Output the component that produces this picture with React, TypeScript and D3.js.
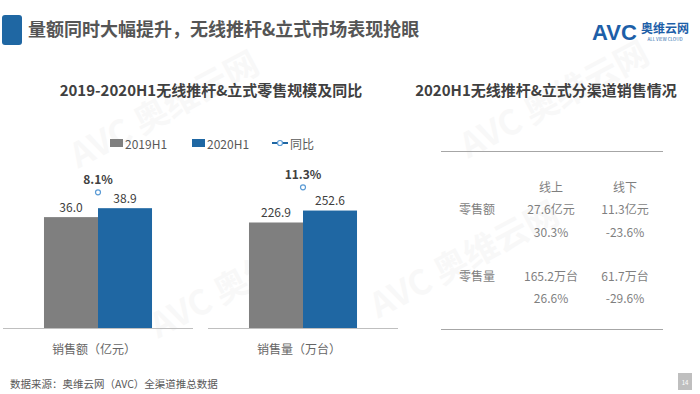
import { useEffect, useRef } from "react";
import * as d3 from "d3";

const W = 700;
const H = 394;
const FONT = "'Noto Sans CJK SC', 'Noto Sans', sans-serif";

// left panel: bars + yoy
const categories = ["销售额（亿元）", "销售量（万台）"];
const seriesNames = ["2019H1", "2020H1"];
const seriesColors = ["#7f7f7f", "#1f67a3"];
const values2019 = [36.0, 226.9];
const values2020 = [38.9, 252.6];
const yoyValues = [0.081, 0.113];
const yoyLabel = "同比";

// right panel: channel table
const channels = ["线上", "线下"];
const tableRows = ["零售额", "零售量"];
const amountRow1 = ["27.6亿元", "11.3亿元"];
const growthRow1 = ["30.3%", "-23.6%"];
const amountRow2 = ["165.2万台", "61.7万台"];
const growthRow2 = ["26.6%", "-29.6%"];

const App = () => {
  const svgRef = useRef<SVGSVGElement | null>(null);

  useEffect(() => {
    const svg = d3.select(svgRef.current);
    svg.selectAll("*").remove();

    svg.append("rect").attr("width", W).attr("height", H).attr("fill", "#fff");

    // faint watermarks
    const marks = [
      [170, 120],
      [470, 270],
      [250, 290],
      [560, 110],
    ];
    marks.forEach(([x, y]) => {
      svg
        .append("text")
        .attr("transform", `translate(${x},${y}) rotate(-28)`)
        .attr("text-anchor", "middle")
        .attr("font-family", FONT)
        .attr("font-weight", 700)
        .attr("font-size", 34)
        .attr("fill", "#000")
        .attr("opacity", 0.025)
        .text("AVC 奥维云网");
    });

    // header
    svg
      .append("rect")
      .attr("x", 2)
      .attr("y", 15)
      .attr("width", 20)
      .attr("height", 30)
      .attr("rx", 3)
      .attr("fill", "#1f67a3");
    svg
      .append("text")
      .attr("x", 28)
      .attr("y", 36)
      .attr("font-family", FONT)
      .attr("font-weight", 700)
      .attr("font-size", 18)
      .attr("fill", "#555")
      .text("量额同时大幅提升，无线推杆&立式市场表现抢眼");

    // logo
    svg
      .append("text")
      .attr("x", 592)
      .attr("y", 40)
      .attr("font-family", "'Liberation Sans', sans-serif")
      .attr("font-weight", 700)
      .attr("font-size", 22)
      .attr("fill", "#1d5fa8")
      .text("AVC");
    svg
      .append("text")
      .attr("x", 641)
      .attr("y", 33)
      .attr("font-family", FONT)
      .attr("font-weight", 700)
      .attr("font-size", 12)
      .attr("fill", "#1d5fa8")
      .text("奥维云网");
    svg
      .append("text")
      .attr("x", 665)
      .attr("y", 41)
      .attr("text-anchor", "middle")
      .attr("font-family", FONT)
      .attr("font-size", 4.5)
      .attr("fill", "#1d5fa8")
      .text("ALL VIEW CLOUD");

    // left chart title
    svg
      .append("text")
      .attr("x", 211)
      .attr("y", 89)
      .attr("dominant-baseline", "central")
      .attr("text-anchor", "middle")
      .attr("font-family", FONT)
      .attr("font-weight", 700)
      .attr("font-size", 15)
      .attr("fill", "#404040")
      .text("2019-2020H1无线推杆&立式零售规模及同比");

    // legend
    const legend = svg.append("g").attr("font-family", FONT).attr("font-size", 12).attr("fill", "#595959");
    const legendX = [110, 192];
    seriesNames.forEach((name, i) => {
      legend
        .append("rect")
        .attr("x", legendX[i])
        .attr("y", 139)
        .attr("width", 13)
        .attr("height", 8)
        .attr("fill", seriesColors[i]);
      legend
        .append("text")
        .attr("x", legendX[i] + 15)
        .attr("y", 143)
        .attr("dominant-baseline", "central")
        .text(name);
    });
    legend
      .append("line")
      .attr("x1", 272)
      .attr("x2", 288)
      .attr("y1", 143)
      .attr("y2", 143)
      .attr("stroke", "#1f67a3")
      .attr("stroke-width", 2);
    legend
      .append("circle")
      .attr("cx", 280)
      .attr("cy", 143)
      .attr("r", 2.5)
      .attr("fill", "#fff")
      .attr("stroke", "#5b9bd5")
      .attr("stroke-width", 1.2);
    legend
      .append("text")
      .attr("x", 290)
      .attr("y", 143)
      .attr("dominant-baseline", "central")
      .text(yoyLabel);

    // bars
    const baseY = 328;
    const x0 = d3
      .scaleBand<string>()
      .domain(categories)
      .range([-4.5, 405.5])
      .paddingInner(0.473)
      .paddingOuter(0.2365);
    const x1 = d3.scaleBand<string>().domain(seriesNames).range([0, x0.bandwidth()]);
    const yScales = [
      d3.scaleLinear().domain([0, 48.7]).range([baseY, 178]),
      d3.scaleLinear().domain([0, 322.6]).range([baseY, 178]),
    ];
    const yYoy = d3.scaleLinear().domain([0, 0.2]).range([205, 173.75]);

    categories.forEach((cat, ci) => {
      const g = svg.append("g").attr("transform", `translate(${x0(cat)},0)`);
      const vals = [values2019[ci], values2020[ci]];
      const y = yScales[ci];
      const cx = x0.bandwidth() / 2;

      g.append("line")
        .attr("x1", cx - 95)
        .attr("x2", cx + 95)
        .attr("y1", baseY + 0.5)
        .attr("y2", baseY + 0.5)
        .attr("stroke", "#bfbfbf")
        .attr("stroke-width", 1);

      seriesNames.forEach((s, si) => {
        g.append("rect")
          .attr("x", x1(s)!)
          .attr("y", y(vals[si]))
          .attr("width", x1.bandwidth())
          .attr("height", baseY - y(vals[si]))
          .attr("fill", seriesColors[si]);
        g.append("text")
          .attr("x", x1(s)! + x1.bandwidth() / 2)
          .attr("y", y(vals[si]) - 11)
          .attr("text-anchor", "middle")
          .attr("dominant-baseline", "central")
          .attr("font-family", FONT)
          .attr("font-size", 12)
          .attr("fill", "#404040")
          .text(d3.format(".1f")(vals[si]));
      });

      // yoy point
      g.append("circle")
        .attr("cx", cx)
        .attr("cy", yYoy(yoyValues[ci]))
        .attr("r", 2.5)
        .attr("fill", "#fff")
        .attr("stroke", "#5b9bd5")
        .attr("stroke-width", 1.2);
      g.append("text")
        .attr("x", cx)
        .attr("y", yYoy(yoyValues[ci]) - 14)
        .attr("text-anchor", "middle")
        .attr("dominant-baseline", "central")
        .attr("font-family", FONT)
        .attr("font-weight", 700)
        .attr("font-size", 12)
        .attr("fill", "#404040")
        .text(d3.format(".1%")(yoyValues[ci]));

      g.append("text")
        .attr("x", cx - 4)
        .attr("y", 348)
        .attr("text-anchor", "middle")
        .attr("dominant-baseline", "central")
        .attr("font-family", FONT)
        .attr("font-size", 12)
        .attr("fill", "#666")
        .text(cat);
    });

    // right panel: table
    svg
      .append("text")
      .attr("x", 546)
      .attr("y", 89)
      .attr("dominant-baseline", "central")
      .attr("text-anchor", "middle")
      .attr("font-family", FONT)
      .attr("font-weight", 700)
      .attr("font-size", 15)
      .attr("fill", "#404040")
      .text("2020H1无线推杆&立式分渠道销售情况");

    [151, 329].forEach((ly) => {
      svg
        .append("line")
        .attr("x1", 441)
        .attr("x2", 663)
        .attr("y1", ly + 0.5)
        .attr("y2", ly + 0.5)
        .attr("stroke", "#a6a6a6")
        .attr("stroke-width", 1);
    });

    const colX = d3.scalePoint<string>().domain(["", ...channels]).range([477, 625]);
    const rowY = d3
      .scaleOrdinal<string, number>()
      .domain(["head", "a1", "g1", "a2", "g2"])
      .range([186, 208, 231, 275, 297]);

    const t = svg
      .append("g")
      .attr("font-family", FONT)
      .attr("font-size", 12)
      .attr("fill", "#7f7f7f")
      .attr("text-anchor", "middle")
      .attr("dominant-baseline", "central");

    const cell = (x: number, y: number, s: string) =>
      t.append("text").attr("x", x).attr("y", y).attr("dominant-baseline", "central").text(s);

    channels.forEach((c, i) => {
      cell(colX(c)!, rowY("head"), c);
      cell(colX(c)!, rowY("a1"), amountRow1[i]);
      cell(colX(c)!, rowY("g1"), growthRow1[i]);
      cell(colX(c)!, rowY("a2"), amountRow2[i]);
      cell(colX(c)!, rowY("g2"), growthRow2[i]);
    });
    cell(colX("")!, rowY("a1"), tableRows[0]);
    cell(colX("")!, rowY("a2"), tableRows[1]);

    // footer
    svg
      .append("text")
      .attr("x", 10)
      .attr("y", 383)
      .attr("dominant-baseline", "central")
      .attr("font-family", FONT)
      .attr("font-size", 10.5)
      .attr("fill", "#595959")
      .text("数据来源：奥维云网（AVC）全渠道推总数据");
    svg
      .append("rect")
      .attr("x", 678)
      .attr("y", 373)
      .attr("width", 14)
      .attr("height", 17)
      .attr("fill", "#bfbfbf");
    svg
      .append("text")
      .attr("x", 685)
      .attr("y", 382)
      .attr("text-anchor", "middle")
      .attr("dominant-baseline", "central")
      .attr("font-family", FONT)
      .attr("font-size", 6)
      .attr("fill", "#fff")
      .text("14");
  }, []);

  return (
    <div style={{ position: "absolute", left: 0, top: 0 }}>
      <svg ref={svgRef} width={W} height={H} style={{ display: "block" }} />
    </div>
  );
};

export default App;
